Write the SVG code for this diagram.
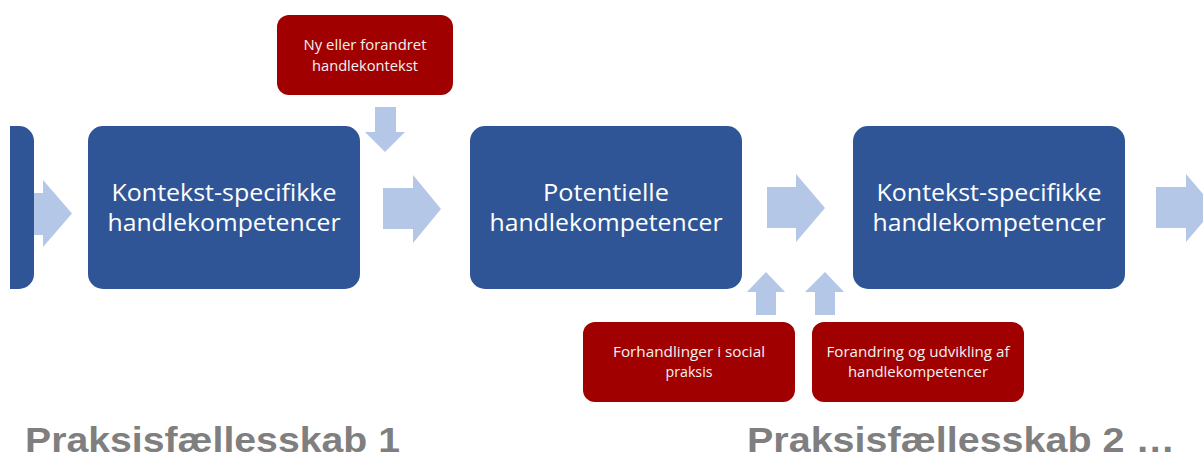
<svg xmlns="http://www.w3.org/2000/svg" width="1203" height="457" viewBox="0 0 1203 457">
<style>
.blue{fill:#2F5597;}
.red{fill:#A00000;}
.arr{fill:#B4C7E7;}
.bt{font-family:"Open Sans","Liberation Sans",sans-serif;font-size:24px;fill:#FFFFFF;text-anchor:middle;}
.rt{font-family:"Open Sans","Liberation Sans",sans-serif;font-size:14.5px;fill:#F2F2F2;text-anchor:middle;}
.gt{font-family:"Liberation Sans",Arial,sans-serif;font-size:35px;font-weight:bold;fill:#7F7F7F;}
</style>
<rect width="1203" height="457" fill="#FFFFFF"/>
<g id="connectors">
<polygon class="arr" points="14,193 43,193 43,180 72,213.5 43,247 43,235 14,235"/>
<polygon class="arr" points="383,188 413,188 413,175 441,209 413,243 413,229 383,229"/>
<polygon class="arr" points="767,187 796,187 796,174 825,208 796,242 796,228 767,228"/>
<polygon class="arr" points="1156,187 1186,187 1186,174 1215,208 1186,242 1186,228 1156,228"/>
<polygon class="arr" points="375,107 396,107 396,132 405,132 385,152 365,132 375,132"/>
<polygon class="arr" points="756,315 776,315 776,292 785,292 766,272 747,292 756,292"/>
<polygon class="arr" points="815,315 835,315 835,292 844,292 825,272 805,292 815,292"/>
</g>
<g id="node-left">
<path class="blue" d="M10,126 H19 A15,15 0 0 1 34,141 V274 A15,15 0 0 1 19,289 H10 Z"/>
</g>
<g id="node-kontekst1">
<rect class="blue" x="88" y="126" width="272" height="163" rx="15"/>
<text class="bt" x="224" y="201" textLength="225" lengthAdjust="spacingAndGlyphs">Kontekst-specifikke</text>
<text class="bt" x="224" y="231" textLength="233" lengthAdjust="spacingAndGlyphs">handlekompetencer</text>
</g>
<g id="node-potentielle">
<rect class="blue" x="470" y="126" width="272" height="163" rx="15"/>
<text class="bt" x="606" y="201" textLength="126" lengthAdjust="spacingAndGlyphs">Potentielle</text>
<text class="bt" x="606" y="231" textLength="233" lengthAdjust="spacingAndGlyphs">handlekompetencer</text>
</g>
<g id="node-kontekst2">
<rect class="blue" x="853" y="126" width="272" height="163" rx="15"/>
<text class="bt" x="989" y="201" textLength="225" lengthAdjust="spacingAndGlyphs">Kontekst-specifikke</text>
<text class="bt" x="989" y="231" textLength="233" lengthAdjust="spacingAndGlyphs">handlekompetencer</text>
</g>
<g id="node-ny">
<rect class="red" x="277" y="15" width="176" height="80" rx="12"/>
<text class="rt" x="365" y="50" textLength="123" lengthAdjust="spacingAndGlyphs">Ny eller forandret</text>
<text class="rt" x="365" y="71" textLength="106" lengthAdjust="spacingAndGlyphs">handlekontekst</text>
</g>
<g id="node-forhandlinger">
<rect class="red" x="583" y="322" width="212" height="80" rx="12"/>
<text class="rt" x="689" y="357" textLength="152" lengthAdjust="spacingAndGlyphs">Forhandlinger i social</text>
<text class="rt" x="689" y="377" textLength="47" lengthAdjust="spacingAndGlyphs">praksis</text>
</g>
<g id="node-forandring">
<rect class="red" x="812" y="322" width="212" height="80" rx="12"/>
<text class="rt" x="918" y="357" textLength="183" lengthAdjust="spacingAndGlyphs">Forandring og udvikling af</text>
<text class="rt" x="918" y="377" textLength="140" lengthAdjust="spacingAndGlyphs">handlekompetencer</text>
</g>
<g id="labels">
<text class="gt" x="25" y="452" textLength="375" lengthAdjust="spacingAndGlyphs">Praksisfællesskab 1</text>
<text class="gt" x="747" y="452" textLength="428" lengthAdjust="spacingAndGlyphs">Praksisfællesskab 2 …</text>
</g>
</svg>
